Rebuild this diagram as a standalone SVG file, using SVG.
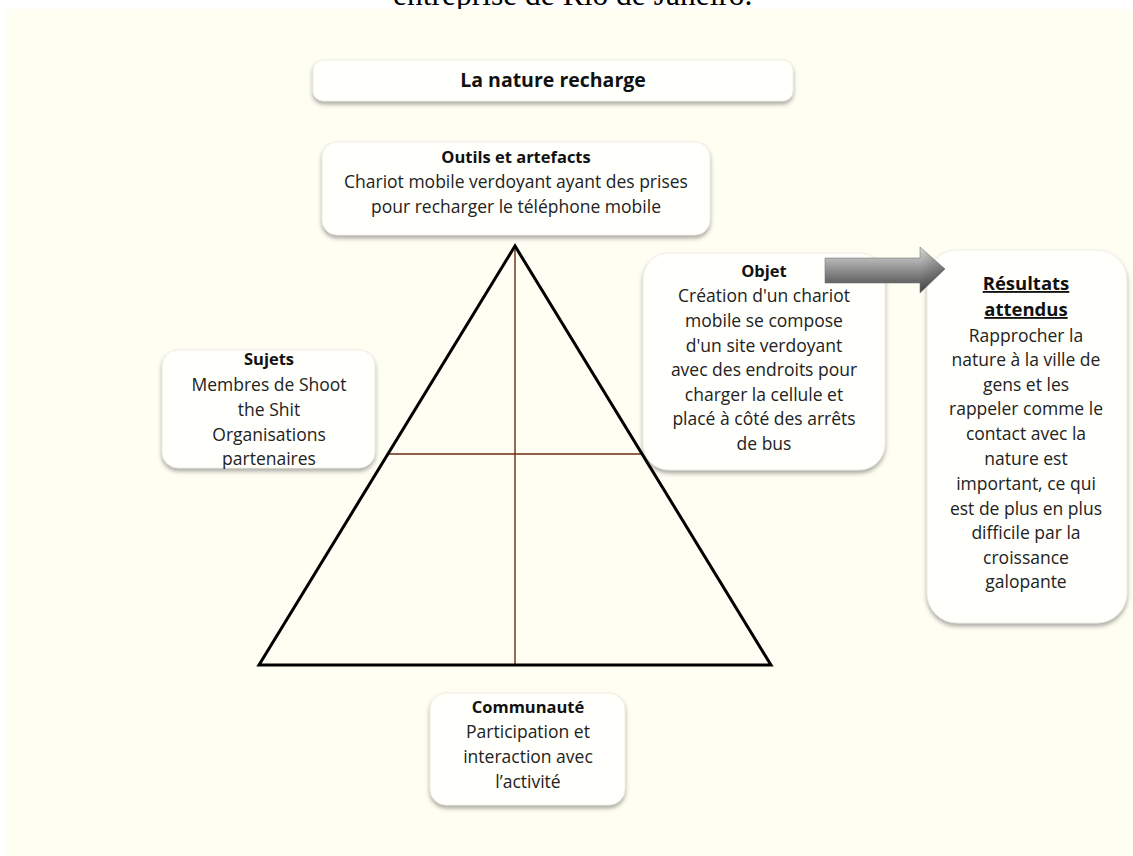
<svg xmlns="http://www.w3.org/2000/svg" width="1133" height="856" viewBox="0 0 1133 856">
  <style>
    .box { fill: #fffffb; stroke: #ecebe2; stroke-width: 0.8; filter: url(#shadow); }
    .t { font-family: "Open Sans", "Liberation Sans", sans-serif; font-size: 17.5px; fill: #222; text-anchor: middle; }
    .h { font-family: "Open Sans", "Liberation Sans", sans-serif; font-size: 16.5px; font-weight: bold; fill: #111; text-anchor: middle; }
    .tri { fill: none; stroke: #000; stroke-width: 3; stroke-linejoin: miter; }
    .cross { stroke: #6e2a14; stroke-width: 1.4; fill: none; }
  </style>
  <defs>
    <filter id="shadow" x="-10%" y="-10%" width="120%" height="130%">
      <feDropShadow dx="0" dy="3" stdDeviation="2" flood-color="#707070" flood-opacity="0.6"/>
    </filter>
    <linearGradient id="arrowGrad" gradientUnits="userSpaceOnUse" x1="0" y1="247" x2="0" y2="293">
      <stop offset="0" stop-color="#d9d9d9"/>
      <stop offset="0.3" stop-color="#b0b0b0"/>
      <stop offset="0.65" stop-color="#777777"/>
      <stop offset="1" stop-color="#3e3e3e"/>
    </linearGradient>
    <linearGradient id="headGrad" gradientUnits="userSpaceOnUse" x1="920" y1="0" x2="945" y2="0">
      <stop offset="0" stop-color="#000" stop-opacity="0"/>
      <stop offset="1" stop-color="#000" stop-opacity="0.25"/>
    </linearGradient>
  </defs>

  <rect x="0" y="0" width="1133" height="856" fill="#ffffff"/>
  <text x="393" y="5" font-family="'Liberation Serif', serif" font-size="31.5" fill="#000">entreprise de Rio de Janeiro.</text>
  <rect x="5" y="9" width="1128" height="847" fill="#fffef2"/>

  <g id="node-title">
    <rect class="box" x="313" y="60" width="480" height="41" rx="10"/>
    <text x="553" y="87" class="h" style="font-size:19.5px">La nature recharge</text>
  </g>

  <g id="node-outils">
    <rect class="box" x="322" y="142" width="388" height="93" rx="15"/>
    <text class="h" x="516" y="163">Outils et artefacts</text>
    <text class="t" x="516" y="188">Chariot mobile verdoyant ayant des prises</text>
    <text class="t" x="516" y="213">pour recharger le téléphone mobile</text>
  </g>

  <g id="node-sujets">
    <rect class="box" x="162" y="350" width="213" height="118" rx="16"/>
    <text class="h" x="269" y="365">Sujets</text>
    <text class="t" x="269" y="391">Membres de Shoot</text>
    <text class="t" x="269" y="416">the Shit</text>
    <text class="t" x="269" y="441">Organisations</text>
    <text class="t" x="269" y="465">partenaires</text>
  </g>

  <g id="node-objet">
    <rect class="box" x="643" y="253" width="242" height="217" rx="26"/>
    <text class="h" x="764" y="277">Objet</text>
    <text class="t" x="764" y="302">Création d'un chariot</text>
    <text class="t" x="764" y="327">mobile se compose</text>
    <text class="t" x="764" y="352">d'un site verdoyant</text>
    <text class="t" x="764" y="376">avec des endroits pour</text>
    <text class="t" x="764" y="401">charger la cellule et</text>
    <text class="t" x="764" y="425">placé à côté des arrêts</text>
    <text class="t" x="764" y="450">de bus</text>
  </g>

  <g id="node-resultats">
    <rect class="box" x="927" y="250" width="200" height="373" rx="30"/>
    <text class="h" x="1026" y="290" style="font-size:18.5px" text-decoration="underline">Résultats</text>
    <text class="h" x="1026" y="316" style="font-size:18.5px" text-decoration="underline">attendus</text>
    <text class="t" x="1026" y="342">Rapprocher la</text>
    <text class="t" x="1026" y="366">nature à la ville de</text>
    <text class="t" x="1026" y="391">gens et les</text>
    <text class="t" x="1026" y="415">rappeler comme le</text>
    <text class="t" x="1026" y="440">contact avec la</text>
    <text class="t" x="1026" y="465">nature est</text>
    <text class="t" x="1026" y="490">important, ce qui</text>
    <text class="t" x="1026" y="515">est de plus en plus</text>
    <text class="t" x="1026" y="539">difficile par la</text>
    <text class="t" x="1026" y="564">croissance</text>
    <text class="t" x="1026" y="588">galopante</text>
  </g>

  <g id="node-communaute">
    <rect class="box" x="430" y="693" width="195" height="112" rx="16"/>
    <text class="h" x="528" y="713">Communauté</text>
    <text class="t" x="528" y="738">Participation et</text>
    <text class="t" x="528" y="763">interaction avec</text>
    <text class="t" x="528" y="788">l’activité</text>
  </g>

  <g id="triangle">
    <line class="cross" x1="515" y1="247" x2="515" y2="665"/>
    <line class="cross" x1="388" y1="454" x2="642" y2="454"/>
    <polygon class="tri" points="515,246 259,665 771,665"/>
  </g>

  <g id="connectors">
    <path d="M825,258 L920,258 L920,247 L945,269 L920,293 L920,283 L825,283 Z" fill="url(#arrowGrad)" stroke="#7a7a7a" stroke-width="0.6"/>
    <path d="M920,247 L945,269 L920,293 Z" fill="url(#headGrad)"/>
  </g>
</svg>
